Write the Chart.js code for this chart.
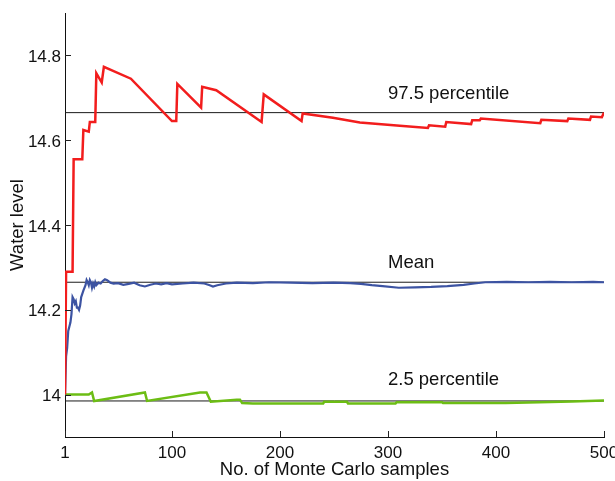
<!DOCTYPE html>
<html>
<head>
<meta charset="utf-8">
<script src="https://cdn.jsdelivr.net/npm/chart.js@4/dist/chart.umd.min.js"></script>
<style>
html,body{margin:0;padding:0;background:#fff;}
#wrap{width:615px;height:481px;position:relative;}
</style>
</head>
<body>
<div id="wrap"><canvas id="c" width="615" height="481"></canvas></div>
<script>
// ---- data ----
const xTicks = [1, 100, 200, 300, 400, 500];
const yTicks = [14, 14.2, 14.4, 14.6, 14.8];

const upperN = [1,2,8,9,17,18,23,24,29,30,35,37,62,100,104,105,127,128,141,183,185,220,221,249,274,311,337,338,353,354,377,378,385,386,441,442,466,467,487,488,498,500];
const upperV = [14.0,14.29,14.29,14.555,14.555,14.624,14.62,14.643,14.643,14.758,14.736,14.773,14.745,14.645,14.645,14.733,14.677,14.726,14.718,14.643,14.708,14.645,14.663,14.653,14.642,14.634,14.629,14.635,14.632,14.643,14.638,14.647,14.647,14.651,14.64,14.648,14.645,14.651,14.648,14.656,14.654,14.665];

const meanN = [1,2,3,4,5,6,7,8,9,10,11,12,13,14,15,16,18,20,21,22,23,24,25,26,27,28,29,30,32,34,36,38,40,43,46,50,55,60,65,70,75,80,85,90,95,100,110,120,130,135,138,142,150,160,175,190,210,230,250,265,275,285,295,310,325,340,355,370,380,390,410,430,450,470,490,500];
const meanV = [14.0,14.09,14.11,14.15,14.16,14.17,14.19,14.23,14.225,14.215,14.22,14.205,14.205,14.2,14.21,14.23,14.245,14.258,14.27,14.265,14.258,14.27,14.265,14.252,14.262,14.255,14.265,14.258,14.264,14.262,14.268,14.272,14.27,14.264,14.262,14.263,14.259,14.261,14.264,14.258,14.255,14.259,14.262,14.26,14.263,14.26,14.262,14.264,14.262,14.258,14.255,14.258,14.262,14.264,14.263,14.265,14.264,14.263,14.264,14.263,14.261,14.258,14.256,14.252,14.253,14.254,14.256,14.259,14.262,14.265,14.266,14.265,14.266,14.265,14.266,14.265];

const lowerN = [1,23,26,28,75,77,126,132,136,160,163,165,175,240,241,262,263,307,308,350,351,409,440,470,500];
const lowerV = [14.0,14.0,14.005,13.985,14.005,13.985,14.005,14.005,13.983,13.988,13.988,13.98,13.979,13.979,13.983,13.983,13.979,13.979,13.982,13.982,13.98,13.98,13.982,13.984,13.986];

const refLevels = [14.665, 14.265, 13.985];
const labelTexts = ["97.5 percentile", "Mean", "2.5 percentile"];
const labelYs = [14.71, 14.31, 14.034];
const labelX = 300;

// ---- chart ----
const FONT = "'Liberation Sans', Arial, Helvetica, sans-serif";
const toPts = (ns, vs) => ns.map((n, i) => ({x: n, y: vs[i]}));

const datasets = [
  {label: '97.5 percentile', data: toPts(upperN, upperV), borderColor: '#f21d1d', borderWidth: 2.5, order: 1},
  {label: 'Mean', data: toPts(meanN, meanV), borderColor: '#3c53a2', borderWidth: 2.2, order: 2},
  {label: '2.5 percentile', data: toPts(lowerN, lowerV), borderColor: '#6cbd14', borderWidth: 2.5, order: 3}
];
refLevels.forEach((lv, i) => {
  datasets.push({label: 'ref' + i, data: [{x: xTicks[0], y: lv}, {x: xTicks[xTicks.length - 1], y: lv}],
    borderColor: '#1a1a1a', borderWidth: 1, order: 10});
});

const decor = {
  id: 'decor',
  afterDatasetsDraw(chart) {
    const {ctx, chartArea, scales: {x, y}} = chart;
    ctx.save();
    ctx.strokeStyle = '#222';
    ctx.lineWidth = 1;
    ctx.beginPath();
    xTicks.forEach(v => {
      const px = Math.round(x.getPixelForValue(v)) + 0.5;
      ctx.moveTo(px, chartArea.bottom);
      ctx.lineTo(px, chartArea.bottom - 6);
    });
    yTicks.forEach(v => {
      const py = Math.round(y.getPixelForValue(v)) + 0.5;
      ctx.moveTo(chartArea.left, py);
      ctx.lineTo(chartArea.left + 6, py);
    });
    ctx.stroke();
    ctx.fillStyle = '#111';
    ctx.font = '18.5px ' + FONT;
    ctx.textAlign = 'left';
    ctx.textBaseline = 'middle';
    labelTexts.forEach((t, i) => {
      ctx.fillText(t, x.getPixelForValue(labelX), y.getPixelForValue(labelYs[i]));
    });
    ctx.restore();
  }
};

new Chart(document.getElementById('c'), {
  type: 'line',
  data: {datasets},
  plugins: [decor],
  options: {
    responsive: false,
    animation: false,
    events: [],
    layout: {padding: {top: 13, right: 11, left: 0, bottom: 0}},
    elements: {point: {radius: 0}, line: {tension: 0, borderCapStyle: 'butt', borderJoinStyle: 'miter'}},
    plugins: {legend: {display: false}, tooltip: {enabled: false}},
    scales: {
      x: {
        type: 'linear', min: 1, max: 500,
        afterBuildTicks: s => { s.ticks = xTicks.map(v => ({value: v})); },
        afterFit: s => { s.height = 44; s.paddingLeft = 0; s.paddingRight = 0; },
        grid: {display: true, drawOnChartArea: false, drawTicks: false},
        border: {display: true, color: '#111', width: 1},
        ticks: {padding: 6, color: '#111', font: {family: FONT, size: 17}, maxRotation: 0, autoSkip: false},
        title: {display: true, text: 'No. of Monte Carlo samples', color: '#111', font: {family: FONT, size: 18.5}, padding: {top: 0, bottom: 0}}
      },
      y: {
        type: 'linear', min: 13.9, max: 14.9,
        afterBuildTicks: s => { s.ticks = yTicks.map(v => ({value: v})); },
        afterFit: s => { s.width = 65; s.paddingTop = 0; s.paddingBottom = 0; },
        grid: {display: true, drawOnChartArea: false, drawTicks: false},
        border: {display: true, color: '#111', width: 1},
        ticks: {padding: 4, labelOffset: 2, color: '#111', font: {family: FONT, size: 17}, callback: v => String(Number(v.toFixed(1)))},
        title: {display: true, text: 'Water level', color: '#111', font: {family: FONT, size: 18.5}, padding: {top: 7, bottom: 0}}
      }
    }
  }
});
</script>
</body>
</html>
